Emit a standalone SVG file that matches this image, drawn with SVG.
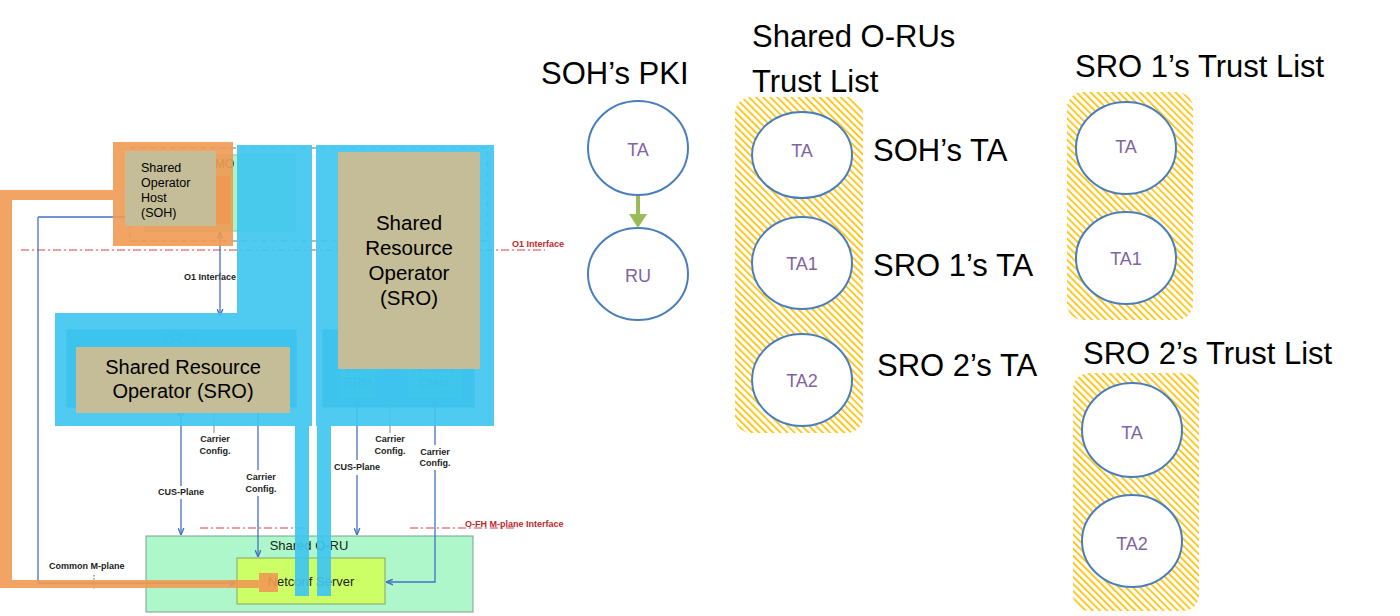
<svg xmlns="http://www.w3.org/2000/svg" width="1400" height="616" viewBox="0 0 1400 616">
<defs>
<style>
.sans{font-family:"Liberation Sans",Arial,sans-serif}
.lbl{font-family:"Liberation Sans",Arial,sans-serif;font-size:9px;font-weight:bold;fill:#222}
.red{font-family:"Liberation Sans",Arial,sans-serif;font-size:9px;font-weight:bold;fill:#C0272D}
.big{font-family:"Liberation Sans",Arial,sans-serif;font-size:31px;fill:#000}
.ta{font-family:"Liberation Sans",Arial,sans-serif;font-size:18px;fill:#8064A2;text-anchor:middle}
.tan{fill:#C4BD97}
.tantxt{font-family:"Liberation Sans",Arial,sans-serif;fill:#000}
.conn{stroke:#4472C4;stroke-width:1.3;fill:none}
.ell{fill:#fff;stroke:#4A7EBB;stroke-width:2}
.reddash{stroke:#D04040;stroke-width:1;stroke-dasharray:8 3 2 3;fill:none}
.cyan{fill:#40C6F0;opacity:0.92}
.orange{fill:#EF9A52;opacity:0.9}
.under{font-family:"Liberation Sans",Arial,sans-serif;font-size:12px;fill:#106FA8;text-anchor:middle}
</style>
<pattern id="hatch" patternUnits="userSpaceOnUse" width="5" height="5" patternTransform="rotate(-45)">
<rect width="5" height="5" fill="#fff"/>
<rect width="1.7" height="5" fill="#FFC000"/>
</pattern>
<marker id="ah" viewBox="0 0 10 10" refX="10" refY="5" markerWidth="7" markerHeight="7" markerUnits="userSpaceOnUse" orient="auto-start-reverse">
<path d="M0,1 L10,5 L0,9" fill="none" stroke="#4472C4" stroke-width="2"/>
</marker>
<marker id="ahc" viewBox="0 0 10 10" refX="10" refY="5" markerWidth="7" markerHeight="7" markerUnits="userSpaceOnUse" orient="auto-start-reverse">
<path d="M0,1 L10,5 L0,9" fill="none" stroke="#3AA8DC" stroke-width="2"/>
</marker>
</defs>
<rect width="1400" height="616" fill="#fff"/>

<g id="smo-area">
<rect x="130" y="148" width="357" height="93" fill="none" stroke="#6F6F6F" stroke-width="1" stroke-dasharray="6 4"/>
<rect x="145" y="155" width="150" height="76" fill="#AAF5C8" stroke="#8BBF9F" stroke-width="1"/>
<rect x="145" y="177" width="84" height="46" fill="#E59A68" stroke="#C87C48" stroke-width="1"/>
<text class="sans" x="207" y="168" font-size="12" fill="#333">SMO</text>
<line x1="38" y1="217" x2="125" y2="217" stroke="#4472C4" stroke-width="1.3"/>
</g>

<g id="o1-line">
<line class="reddash" x1="21" y1="250" x2="545" y2="250"/>
<text class="red" x="512" y="247">O1 Interface</text>
<text class="lbl" x="184" y="280">O1 Interface</text>
</g>

<g id="odu-left">
<rect x="67" y="330" width="229" height="77" fill="#1FB5D0" stroke="#1A98C0" stroke-width="1"/>
<text class="under" x="180" y="344">O-DU</text>
</g>

<g id="odu-right">
<rect x="323" y="330" width="151" height="77" fill="#30A8D0" stroke="#1A98C0" stroke-width="1"/>
<rect x="339" y="355" width="37" height="44" fill="#2ECBC8" stroke="#20A8C0" stroke-width="1"/>
<text class="under" x="358" y="372">BB -</text>
<text class="under" x="358" y="387">RRM</text>
<rect x="407" y="355" width="55" height="44" fill="#2ECBC8" stroke="#20A8C0" stroke-width="1"/>
<text class="under" x="434" y="372">Netconf</text>
<text class="under" x="434" y="387">Client</text>
</g>

<g id="oru">
<rect x="146" y="536" width="327" height="76" fill="#ADF7CB" stroke="#7F9F8F" stroke-width="1"/>
<text class="sans" x="309" y="550" font-size="13" fill="#222" text-anchor="middle">Shared O-RU</text>
<rect x="237" y="558" width="148" height="46" fill="#CCFF66" stroke="#8FA06A" stroke-width="1"/>
<text class="sans" x="311" y="586" font-size="13" fill="#222" text-anchor="middle">Netconf Server</text>
</g>

<g id="ofh-line">
<line class="reddash" x1="200" y1="528" x2="305" y2="528"/>
<line class="reddash" x1="410" y1="528" x2="515" y2="528"/>
<text class="red" x="465" y="527">O-FH M-plane Interface</text>
</g>

<g id="connectors">
<line class="conn" x1="220" y1="232" x2="220" y2="316" marker-start="url(#ah)" marker-end="url(#ah)"/>
<path class="conn" d="M38,217 V583 H236" marker-end="url(#ah)"/>
<line x1="94" y1="575" x2="94" y2="589" stroke="#555" stroke-width="1" stroke-dasharray="1.5 1.5"/>
<text class="lbl" x="49" y="569">Common M-plane</text>
<line class="conn" x1="181" y1="409" x2="181" y2="486" marker-start="url(#ah)"/>
<line class="conn" x1="181" y1="499" x2="181" y2="535" marker-end="url(#ah)"/>
<text class="lbl" x="181" y="495" text-anchor="middle">CUS-Plane</text>
<line x1="214" y1="413" x2="214" y2="433" stroke="#888" stroke-width="1"/>
<text class="lbl" x="215" y="442" text-anchor="middle">Carrier</text>
<text class="lbl" x="215" y="454" text-anchor="middle">Config.</text>
<line class="conn" x1="258" y1="413" x2="258" y2="470"/>
<line class="conn" x1="258" y1="496" x2="258" y2="557" marker-end="url(#ah)"/>
<text class="lbl" x="261" y="480" text-anchor="middle">Carrier</text>
<text class="lbl" x="261" y="492" text-anchor="middle">Config.</text>
<line x1="377" y1="376" x2="406" y2="376" stroke="#3AA8DC" stroke-width="1.5" marker-start="url(#ahc)" marker-end="url(#ahc)"/>
<line x1="390" y1="378" x2="390" y2="433" stroke="#888" stroke-width="1"/>
<text class="lbl" x="390" y="442" text-anchor="middle">Carrier</text>
<text class="lbl" x="390" y="454" text-anchor="middle">Config.</text>
<line class="conn" x1="357" y1="400" x2="357" y2="460" marker-start="url(#ah)"/>
<line class="conn" x1="357" y1="475" x2="357" y2="535" marker-end="url(#ah)"/>
<text class="lbl" x="357" y="470" text-anchor="middle">CUS-Plane</text>
<line class="conn" x1="435" y1="400" x2="435" y2="445" marker-start="url(#ah)"/>
<path class="conn" d="M435,470 V582 H386" marker-end="url(#ah)"/>
<text class="lbl" x="435" y="455" text-anchor="middle">Carrier</text>
<text class="lbl" x="435" y="466" text-anchor="middle">Config.</text>
</g>

<g id="cyan-overlay">
<path class="cyan" d="M237,145 H312 V426 H55 V313 H237 Z"/>
<rect class="cyan" x="316" y="145" width="178" height="281"/>
<rect class="cyan" x="295" y="426" width="14" height="170"/>
<rect class="cyan" x="317" y="426" width="14" height="170"/>
</g>

<g id="orange-overlay">
<rect class="orange" x="113" y="142" width="120" height="104"/>
<rect class="orange" x="0" y="190" width="113" height="10"/>
<rect class="orange" x="0" y="200" width="12" height="388"/>
<rect class="orange" x="12" y="580" width="247" height="8"/>
<rect class="orange" x="259" y="573" width="19" height="19"/>
</g>

<g id="soh">
<rect class="tan" x="125" y="151" width="91" height="75"/>
<text class="tantxt" font-size="12.5" x="141" y="171.5">Shared</text>
<text class="tantxt" font-size="12.5" x="141" y="186.5">Operator</text>
<text class="tantxt" font-size="12.5" x="141" y="201.5">Host</text>
<text class="tantxt" font-size="12.5" x="141" y="216.5">(SOH)</text>
</g>

<g id="sro-right">
<rect class="tan" x="338" y="152" width="142" height="217"/>
<text class="tantxt" font-size="20.5" x="409" y="230" text-anchor="middle">Shared</text>
<text class="tantxt" font-size="20.5" x="409" y="255" text-anchor="middle">Resource</text>
<text class="tantxt" font-size="20.5" x="409" y="280" text-anchor="middle">Operator</text>
<text class="tantxt" font-size="20.5" x="409" y="305" text-anchor="middle">(SRO)</text>
</g>

<g id="sro-left">
<rect class="tan" x="76" y="347" width="214" height="66"/>
<text class="tantxt" font-size="20" x="183" y="374" text-anchor="middle">Shared Resource</text>
<text class="tantxt" font-size="20" x="183" y="398" text-anchor="middle">Operator (SRO)</text>
</g>

<g id="soh-pki">
<text class="big" x="541" y="84">SOH’s PKI</text>
<ellipse class="ell" cx="638" cy="148" rx="50" ry="47"/>
<text class="ta" x="638" y="156" font-size="22">TA</text>
<ellipse class="ell" cx="638" cy="274" rx="50" ry="46"/>
<text class="ta" x="638" y="282" font-size="20">RU</text>
</g>
<g id="pki-arrow">
<line x1="638" y1="196" x2="638" y2="216" stroke="#9BBB59" stroke-width="4"/>
<polygon points="629,214 647,214 638,228" fill="#9BBB59"/>
</g>

<g id="shared-list">
<text class="big" x="752" y="47">Shared O-RUs</text>
<text class="big" x="752" y="92">Trust List</text>
<rect x="735" y="97" width="128" height="336" rx="16" fill="url(#hatch)"/>
<ellipse class="ell" cx="802" cy="155" rx="50" ry="43"/>
<text class="ta" x="802" y="157">TA</text>
<ellipse class="ell" cx="802" cy="263" rx="50" ry="46"/>
<text class="ta" x="802" y="270">TA1</text>
<ellipse class="ell" cx="802" cy="380" rx="50" ry="46"/>
<text class="ta" x="802" y="387">TA2</text>
<text class="big" x="873" y="161">SOH’s TA</text>
<text class="big" x="873" y="276">SRO 1’s TA</text>
<text class="big" x="877" y="376">SRO 2’s TA</text>
</g>

<g id="sro1-list">
<text class="big" x="1075" y="77">SRO 1’s Trust List</text>
<rect x="1067" y="92" width="126" height="228" rx="16" fill="url(#hatch)"/>
<ellipse class="ell" cx="1126" cy="148" rx="50" ry="46"/>
<text class="ta" x="1126" y="153">TA</text>
<ellipse class="ell" cx="1126" cy="258" rx="50" ry="46"/>
<text class="ta" x="1126" y="265">TA1</text>
</g>

<g id="sro2-list">
<text class="big" x="1083" y="364">SRO 2’s Trust List</text>
<rect x="1073" y="373" width="126" height="238" rx="16" fill="url(#hatch)"/>
<ellipse class="ell" cx="1132" cy="430" rx="50" ry="47"/>
<text class="ta" x="1132" y="439">TA</text>
<ellipse class="ell" cx="1132" cy="541" rx="50" ry="46"/>
<text class="ta" x="1132" y="550">TA2</text>
</g>
</svg>
